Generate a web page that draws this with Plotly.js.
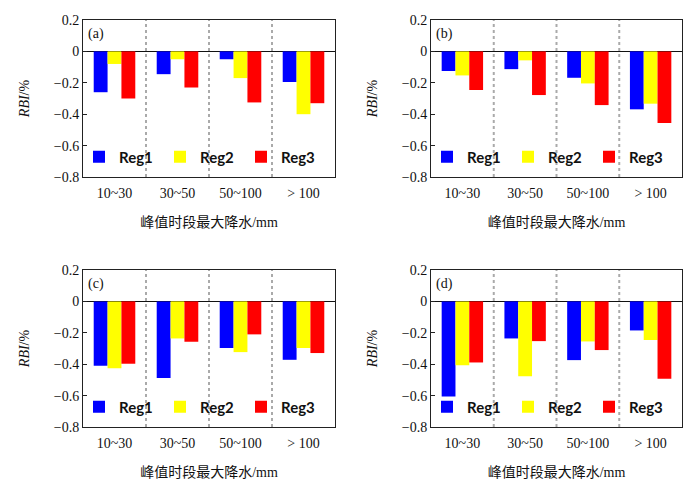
<!DOCTYPE html>
<html>
<head>
<meta charset="utf-8">
<script src="https://cdn.plot.ly/plotly-3.0.1.min.js"></script>
<style>html,body{margin:0;padding:0;background:#fff}#chart{width:698px;height:492px}</style>
</head>
<body>
<div id="chart"></div>
<script>
const categories = ['10~30', '30~50', '50~100', '> 100'];
const seriesNames = ['Reg1', 'Reg2', 'Reg3'];
const seriesColors = ['#0000FF', '#FFFF00', '#FF0000'];
const panelLabels = ['(a)', '(b)', '(c)', '(d)'];

const panelA_Reg1 = [-0.26, -0.145, -0.05, -0.195];
const panelA_Reg2 = [-0.08, -0.05, -0.17, -0.40];
const panelA_Reg3 = [-0.30, -0.23, -0.325, -0.33];

const panelB_Reg1 = [-0.125, -0.113, -0.168, -0.369];
const panelB_Reg2 = [-0.153, -0.057, -0.204, -0.333];
const panelB_Reg3 = [-0.246, -0.278, -0.342, -0.456];

const panelC_Reg1 = [-0.41, -0.488, -0.297, -0.372];
const panelC_Reg2 = [-0.425, -0.236, -0.323, -0.297];
const panelC_Reg3 = [-0.397, -0.257, -0.21, -0.329];

const panelD_Reg1 = [-0.605, -0.236, -0.374, -0.185];
const panelD_Reg2 = [-0.406, -0.476, -0.255, -0.246];
const panelD_Reg3 = [-0.389, -0.253, -0.31, -0.493];

const yTitle = '<i>RBI</i>/%';
const xTitle = '峰值时段最大降水/mm';

const panels = [
  [panelA_Reg1, panelA_Reg2, panelA_Reg3],
  [panelB_Reg1, panelB_Reg2, panelB_Reg3],
  [panelC_Reg1, panelC_Reg2, panelC_Reg3],
  [panelD_Reg1, panelD_Reg2, panelD_Reg3]
];

const W = 698, H = 492;
const yMin = -0.8, yMax = 0.2;
// pixel boxes [left, right, top, bottom]
const boxes = [
  [83, 335, 20, 177],
  [431, 682, 20, 177],
  [83, 335, 270, 427],
  [431, 682, 270, 427]
];

const serif = "'Liberation Serif', 'Times New Roman', serif";
const cjk = "'Liberation Serif', 'Noto Sans CJK SC', serif";

const data = [];
const layout = {
  width: W, height: H,
  margin: {l: 0, r: 0, t: 0, b: 0},
  paper_bgcolor: '#fff', plot_bgcolor: '#fff',
  barmode: 'group', bargap: 0.34, bargroupgap: 0,
  font: {family: serif, size: 14, color: '#111'},
  shapes: [], annotations: []
};

panels.forEach((series, p) => {
  const sfx = p === 0 ? '' : String(p + 1);
  const xa = 'x' + sfx, ya = 'y' + sfx;
  const lg = 'legend' + sfx;
  series.forEach((vals, s) => {
    data.push({
      type: 'bar', x: categories, y: vals, name: seriesNames[s],
      xaxis: xa, yaxis: ya, legend: lg,
      marker: {color: seriesColors[s], line: {width: 0}},
      hoverinfo: 'skip'
    });
  });
  const b = boxes[p];
  const yDom = [(H - b[3]) / H, (H - b[2]) / H];
  layout['xaxis' + sfx] = {
    domain: [b[0] / W, b[1] / W], anchor: ya,
    type: 'category', categoryorder: 'array', categoryarray: categories,
    range: [-0.5, 3.5],
    showline: true, mirror: true, linecolor: '#222', linewidth: 1,
    ticks: '', showgrid: false, zeroline: false,
    tickfont: {family: serif, size: 14, color: '#111'},
    ticklabelstandoff: 3,
    title: {text: xTitle, font: {family: cjk, size: 14, color: '#111'}, standoff: 17},
    fixedrange: true
  };
  layout['yaxis' + sfx] = {
    domain: yDom, anchor: xa,
    range: [yMin, yMax], tick0: 0, dtick: 0.2,
    showline: true, mirror: true, linecolor: '#222', linewidth: 1,
    ticks: 'inside', ticklen: 4, tickcolor: '#222',
    showgrid: false,
    zeroline: true, zerolinecolor: '#111', zerolinewidth: 1.5,
    tickfont: {family: serif, size: 14, color: '#111'},
    title: {text: yTitle, font: {family: serif, size: 14, color: '#111'}, standoff: 20},
    fixedrange: true
  };
  // overlay axis giving the small ticks on the zero line at category boundaries
  const ovName = 'xaxis' + (p + 5);
  const zeroFrac = yDom[0] + (yDom[1] - yDom[0]) * (0 - yMin) / (yMax - yMin);
  layout[ovName] = {
    domain: [b[0] / W, b[1] / W], overlaying: xa, anchor: 'free', position: zeroFrac,
    side: 'top', type: 'linear', range: [-0.5, 3.5],
    tickmode: 'array', tickvals: [0.5, 1.5, 2.5],
    ticks: 'outside', ticklen: 4, tickwidth: 1.2, tickcolor: '#111',
    showticklabels: false, showline: false, showgrid: false, zeroline: false,
    fixedrange: true
  };
  layout[lg] = {
    orientation: 'h', x: (b[0] - 4) / W, xanchor: 'left',
    y: (H - (b[3] - 20)) / H, yanchor: 'middle',
    bgcolor: 'rgba(0,0,0,0)', borderwidth: 0,
    entrywidth: 36, entrywidthmode: 'pixels',
    font: {family: "Lato, 'Open Sans', sans-serif", size: 15, weight: 'bold', color: '#111'},
    traceorder: 'normal'
  };
  [0.5, 1.5, 2.5].forEach(xv => {
    layout.shapes.push({
      type: 'line', xref: xa, yref: ya + ' domain', x0: xv, x1: xv, y0: 0, y1: 1,
      line: {color: '#aaaaaa', width: 2, dash: 'dot'}, layer: 'below'
    });
  });
  layout.annotations.push({
    text: panelLabels[p], xref: xa + ' domain', yref: ya + ' domain',
    x: 0.012, y: 0.91, xanchor: 'left', yanchor: 'middle', showarrow: false,
    font: {family: serif, size: 14, color: '#111'}
  });
});

Plotly.newPlot('chart', data, layout, {displayModeBar: false, staticPlot: true});
</script>
</body>
</html>
